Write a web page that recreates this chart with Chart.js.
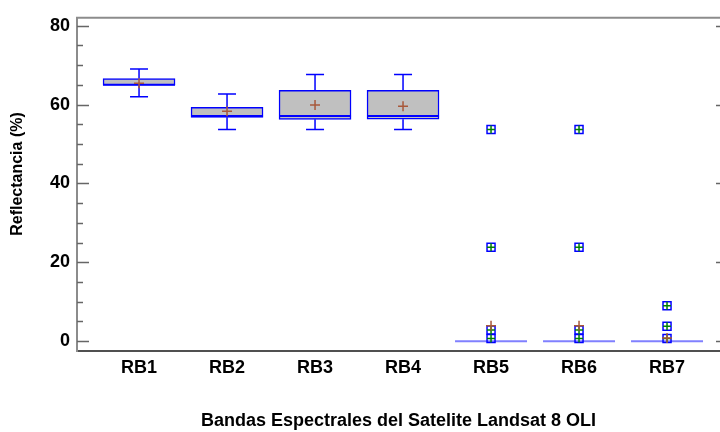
<!DOCTYPE html>
<html>
<head>
<meta charset="utf-8">
<script src="https://cdn.jsdelivr.net/npm/chart.js@4.4.1/dist/chart.umd.min.js"></script>
<style>
  html, body { margin: 0; padding: 0; background: #fff; }
  #wrap { width: 720px; height: 432px; }
</style>
</head>
<body>
<div id="wrap"><canvas id="c"></canvas></div>
<script>
const categories = ['RB1', 'RB2', 'RB3', 'RB4', 'RB5', 'RB6', 'RB7'];
const whiskerMin = [62, 53.7, 53.7, 53.7, null, null, null];
const q1 = [64.9, 56.75, 56.25, 56.3, 0, 0, 0];
const median = [65, 57.1, 57.1, 57.1, 0, 0, 0];
const q3 = [66.6, 59.3, 63.6, 63.6, 0, 0, 0];
const whiskerMax = [69, 62.7, 67.6, 67.6, null, null, null];
const means = [65.4, 58.3, 59.9, 59.6, 3.9, 3.9, 0.8];
const outliers = [[], [], [], [], [53.7, 23.8, 2.8, 0.7], [53.7, 23.8, 2.8, 0.7], [9.0, 3.8, 0.7]];
const yTickValues = [0, 5, 10, 15, 20, 25, 30, 35, 40, 45, 50, 55, 60, 65, 70, 75, 80];
const xTitle = 'Bandas Espectrales del Satelite Landsat 8 OLI';
const yTitle = 'Reflectancia (%)';

const BLUE = '#0000ff';
const FAMILY = '"Liberation Sans", Arial, sans-serif';
const FONT = { family: FAMILY, weight: 'bold', size: 18 };

const boxData = [], whiskerData = [], capData = [], medianData = [], medianColors = [], meanData = [], outData = [];
categories.forEach((c, i) => {
  const x = i + 1;
  if (q3[i] > q1[i]) boxData.push({ x, y: [q1[i], q3[i]] });
  if (whiskerMax[i] !== null) {
    whiskerData.push({ x, y: q3[i] }, { x, y: whiskerMax[i] }, { x, y: null });
    capData.push({ x, y: whiskerMax[i] });
  }
  if (whiskerMin[i] !== null) {
    whiskerData.push({ x, y: q1[i] }, { x, y: whiskerMin[i] }, { x, y: null });
    capData.push({ x, y: whiskerMin[i] });
  }
  medianData.push({ x, y: median[i] });
  medianColors.push(q3[i] > q1[i] ? BLUE : '#8080ff');
  meanData.push({ x, y: means[i] });
  outliers[i].forEach(v => outData.push({ x, y: v }));
});

const frame = {
  id: 'frame',
  beforeDatasetsDraw(chart) {
    const { ctx, chartArea: a, scales: { y } } = chart;
    ctx.save();
    ctx.strokeStyle = '#8c8c8c';
    ctx.lineWidth = 2;
    ctx.beginPath();
    ctx.moveTo(a.left - 1, a.top);
    ctx.lineTo(a.right, a.top);
    ctx.stroke();
    ctx.strokeStyle = '#666';
    ctx.lineWidth = 1.5;
    y.ticks.forEach(t => {
      const py = Math.round(y.getPixelForValue(t.value)) + 0.5;
      const major = t.value % 20 === 0;
      ctx.beginPath();
      ctx.moveTo(a.left, py);
      ctx.lineTo(a.left + (major ? 12 : 6), py);
      if (major) {
        ctx.moveTo(a.right - 4, py);
        ctx.lineTo(a.right, py);
      }
      ctx.stroke();
    });
    // y axis title
    ctx.translate(18, 174);
    ctx.rotate(-Math.PI / 2);
    ctx.font = 'bold 16px ' + FAMILY;
    ctx.fillStyle = '#000';
    ctx.textAlign = 'center';
    ctx.textBaseline = 'middle';
    ctx.fillText(yTitle, 0, 0);
    ctx.restore();
  }
};

new Chart(document.getElementById('c'), {
  type: 'scatter',
  data: {
    datasets: [
      { type: 'line', data: whiskerData, borderColor: BLUE, borderWidth: 1.5, pointRadius: 0, spanGaps: false, fill: false, order: 6 },
      { type: 'bar', data: boxData, backgroundColor: '#c0c0c0', borderColor: BLUE, borderWidth: 1.5, borderSkipped: false, barThickness: 72, grouped: false, order: 5 },
      { data: medianData, pointStyle: 'line', pointRadius: 36, pointBorderColor: medianColors, pointBorderWidth: 2, order: 4 },
      { data: capData, pointStyle: 'line', pointRadius: 9, pointBorderColor: BLUE, pointBorderWidth: 1.5, order: 4 },
      { data: outData, pointStyle: 'rect', pointRadius: 5.66, pointBackgroundColor: 'rgba(255,255,255,0)', pointBorderColor: BLUE, pointBorderWidth: 1.5, order: 3 },
      { data: outData, pointStyle: 'cross', pointRadius: 4, pointBorderColor: '#008000', pointBorderWidth: 1.5, order: 2 },
      { data: meanData, pointStyle: 'cross', pointRadius: 5, pointBorderColor: '#a8583a', pointBorderWidth: 1.5, order: 1 }
    ]
  },
  options: {
    responsive: true,
    maintainAspectRatio: false,
    animation: false,
    devicePixelRatio: 1,
    layout: { autoPadding: false, padding: { top: 14, right: 0, bottom: 0, left: 0 } },
    plugins: { legend: { display: false }, tooltip: { enabled: false } },
    scales: {
      x: {
        type: 'linear',
        min: 0.295,
        max: 7.602,
        offset: false,
        afterBuildTicks: s => { s.ticks = categories.map((c, i) => ({ value: i + 1 })); },
        afterFit: s => { s.height = 81; },
        ticks: { callback: v => categories[Math.round(v) - 1] || '', font: FONT, color: '#000', padding: 6, autoSkip: false, maxRotation: 0 },
        grid: { display: false, drawTicks: false, offset: false },
        border: { display: true, color: '#505050', width: 2 },
        title: { display: true, text: xTitle, font: FONT, color: '#000', padding: { top: 0, bottom: 0 } }
      },
      y: {
        type: 'linear',
        min: -2.5,
        max: 82,
        afterBuildTicks: s => { s.ticks = yTickValues.map(v => ({ value: v })); },
        afterFit: s => { s.width = 77; },
        ticks: { callback: v => (v % 20 === 0 ? String(v) : ''), font: FONT, color: '#000', padding: 7, autoSkip: false },
        grid: { display: false, drawTicks: false },
        border: { display: true, color: '#8c8c8c', width: 2 },
        title: { display: false }
      }
    }
  },
  plugins: [frame]
});
</script>
</body>
</html>
